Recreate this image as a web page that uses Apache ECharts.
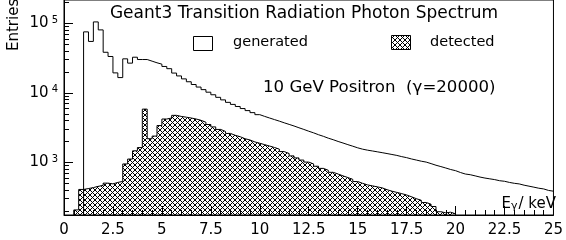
<!DOCTYPE html>
<html>
<head>
<meta charset="utf-8">
<script src="https://cdn.jsdelivr.net/npm/echarts@6.0.0/dist/echarts.min.js"></script>
<style>
  html, body { margin: 0; padding: 0; background: #fff; }
  #chart { width: 566px; height: 240px; }
</style>
</head>
<body>
<div id="chart"></div>
<script>
// 0.25 keV bins; each array starts at the lower edge of its first filled bin
var binWidth = 0.25;
var genStart = 1.0;
var detStart = 0.5;

var generated = [
  75500, 55000, 105000, 80600, 38400, 33400, 19400, 16600, 30900, 26800,
  32600, 30200, 30200, 28600, 27100, 25900, 24000, 22300, 19280, 17540,
  15900, 14460, 13200, 12130, 11140, 10230, 9400, 8630, 7930, 7310,
  6830, 6370, 5950, 5560, 5200, 4860, 4590, 4350, 4130, 3920,
  3710, 3520, 3340, 3150, 2980, 2810, 2660, 2500, 2370, 2230,
  2120, 2000, 1900, 1800, 1710, 1620, 1550, 1500, 1460, 1420,
  1380, 1340, 1300, 1260, 1210, 1170, 1120, 1080, 1040, 1010,
  960, 910, 870, 830, 790, 760, 715, 680, 665, 640,
  615, 595, 580, 565, 545, 535, 515, 500, 490, 470,
  455, 440, 425, 415, 395, 385
];

var detected = [
  207, 408, 420, 434, 452, 467, 503, 491, 515, 532,
  950, 1117, 1466, 1633, 5840, 2190, 2390, 3390, 4210, 4350,
  4750, 4580, 4470, 4350, 4210, 4030, 3780, 3510, 3240, 2980,
  2790, 2610, 2450, 2340, 2190, 2100, 1970, 1885, 1800, 1720,
  1640, 1550, 1430, 1340, 1240, 1160, 1080, 1010, 950, 880,
  820, 770, 720, 680, 640, 605, 570, 530, 500, 475,
  460, 445, 430, 405, 385, 370, 355, 340, 320, 300,
  285, 265, 250, 232, 195, 188, 192, 182
];

var xRange = [0, 25];
var xStep = 2.5;
var yRange = [175, 217000];
var yDecades = [3, 4, 5];

var font = 'DejaVu Sans';
var lg = Math.log10;
var yMin = lg(yRange[0]);
var yMax = lg(yRange[1]);

// black cross-hatch tile, like ROOT fill style 3144
function crossHatch(n) {
  var c = document.createElement('canvas');
  c.width = n;
  c.height = n;
  var ctx = c.getContext('2d');
  ctx.fillStyle = '#000';
  for (var i = 0; i < n; i++) {
    ctx.fillRect(i, i, 1, 1);
    ctx.fillRect(n - 1 - i, i, 1, 1);
  }
  return c;
}
var hatch = { image: crossHatch(5), repeat: 'repeat' };

// step outline of a histogram, in log10 units
function histPoints(start, values, closeRight) {
  var pts = [[start, yMin]];
  values.forEach(function(v, i) {
    pts.push([start + i * binWidth, lg(v)]);
  });
  var end = start + values.length * binWidth;
  pts.push([end, lg(values[values.length - 1])]);
  if (closeRight) pts.push([end, yMin]);
  return pts;
}

var minorTicks = [];
for (var p = 2; p <= 5; p++) {
  for (var k = 1; k <= 9; k++) {
    var t = lg(k * Math.pow(10, p));
    if (t >= yMin && t <= yMax) minorTicks.push(t);
  }
}

var myChart = echarts.init(document.getElementById('chart'));

var option = {
  backgroundColor: '#fff',
  animation: false,
  grid: {
    left: 64, right: 10, top: -3, bottom: 25,
    show: true, borderColor: '#000', borderWidth: 1, backgroundColor: 'transparent'
  },
  xAxis: {
    type: 'value',
    min: xRange[0],
    max: xRange[1],
    interval: xStep,
    axisLine: { lineStyle: { color: '#000', width: 1 } },
    axisTick: { inside: true, length: 9, lineStyle: { color: '#000' } },
    minorTick: { show: true, splitNumber: 5, length: 5, lineStyle: { color: '#000' } },
    splitLine: { show: false },
    axisLabel: { color: '#000', fontFamily: font, fontSize: 15, margin: 8 }
  },
  yAxis: [
    {
      type: 'value',
      min: yMin,
      max: yMax,
      position: 'left',
      axisLine: { show: true, lineStyle: { color: '#000', width: 1 } },
      axisTick: { inside: true, length: 5, customValues: minorTicks, lineStyle: { color: '#000' } },
      axisLabel: { show: false },
      splitLine: { show: false }
    },
    {
      type: 'value',
      min: yMin,
      max: yMax,
      position: 'left',
      axisLine: { show: false },
      axisTick: { inside: true, length: 9, customValues: yDecades, lineStyle: { color: '#000' } },
      axisLabel: {
        customValues: yDecades,
        margin: 6,
        formatter: function(v) {
          return '{b|10}{e|' + Math.round(v) + '}';
        },
        rich: {
          b: { fontFamily: font, fontSize: 15, color: '#000', lineHeight: 16 },
          e: { fontFamily: font, fontSize: 10, color: '#000', verticalAlign: 'top', padding: [0, 0, 0, 3] }
        }
      },
      splitLine: { show: false }
    }
  ],
  graphic: [
    {
      type: 'text', x: 304, y: 14,
      style: { text: 'Geant3 Transition Radiation Photon Spectrum', font: '17px "DejaVu Sans"', fill: '#000', align: 'center', verticalAlign: 'middle' }
    },
    {
      type: 'text', x: 14, y: 51, rotation: Math.PI / 2,
      style: { text: 'Entries', font: '15px "DejaVu Sans"', fill: '#000', align: 'left', verticalAlign: 'middle' }
    },
    {
      type: 'rect', shape: { x: 193.5, y: 36.5, width: 19, height: 14 },
      style: { fill: '#fff', stroke: '#000', lineWidth: 1 }
    },
    {
      type: 'text', x: 233, y: 42,
      style: { text: 'generated', font: '14.5px "DejaVu Sans"', fill: '#000', align: 'left', verticalAlign: 'middle' }
    },
    {
      type: 'rect', shape: { x: 391.5, y: 35.5, width: 19, height: 14 },
      style: { fill: hatch, stroke: '#000', lineWidth: 1 }
    },
    {
      type: 'text', x: 430, y: 42,
      style: { text: 'detected', font: '14.5px "DejaVu Sans"', fill: '#000', align: 'left', verticalAlign: 'middle' }
    },
    {
      type: 'text', x: 263, y: 88,
      style: { text: '10 GeV Positron  (\u03b3=20000)', font: '16.6px "DejaVu Sans"', fill: '#000', align: 'left', verticalAlign: 'middle' }
    },
    {
      type: 'text', x: 556, y: 204,
      style: {
        text: '{n|E}{s|\u03b3}{n|/ keV}',
        align: 'right', verticalAlign: 'middle',
        rich: {
          n: { fontFamily: font, fontSize: 15, fill: '#000', lineHeight: 16 },
          s: { fontFamily: font, fontSize: 11, fill: '#000', verticalAlign: 'bottom', padding: [0, 1, 0, 0] }
        }
      }
    }
  ],
  series: [
    {
      name: 'detected',
      type: 'line',
      step: 'end',
      symbol: 'none',
      yAxisIndex: 0,
      lineStyle: { color: '#000', width: 1 },
      areaStyle: { color: hatch, opacity: 1, origin: 'start' },
      data: histPoints(detStart, detected, true)
    },
    {
      name: 'generated',
      type: 'line',
      step: 'end',
      symbol: 'none',
      yAxisIndex: 0,
      lineStyle: { color: '#000', width: 1 },
      data: histPoints(genStart, generated, false)
    }
  ]
};

myChart.setOption(option);
</script>
</body>
</html>
